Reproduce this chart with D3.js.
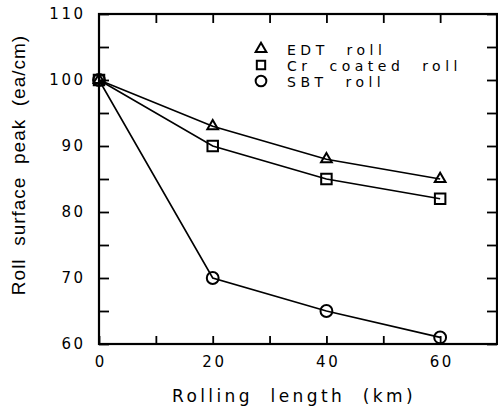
<!DOCTYPE html>
<html>
<head>
<meta charset="utf-8">
<script src="https://cdn.jsdelivr.net/npm/d3@7"></script>
<style>
  body { margin: 0; background: #fff; }
  svg { display: block; }
  text { fill: #000; white-space: pre; }
</style>
</head>
<body>
<svg id="chart" width="498" height="411"></svg>
<script>
// rolling length (km)
const lengths = [0, 20, 40, 60];
// roll surface peak (ea/cm)
const edtRoll = [100, 93, 88, 85];
const crRoll = [100, 90, 85, 82];
const sbtRoll = [100, 70, 65, 61];

const seriesNames = ["EDT  roll", "Cr  coated  roll", "SBT  roll"];
const seriesShapes = [d3.symbolTriangle, d3.symbolSquare, d3.symbolCircle];
const xTicks = [0, 20, 40, 60];
const yTicks = [60, 70, 80, 90, 100, 110];

const svg = d3.select("#chart");
const L = 99, R = 497, T = 14, B = 344;

const x = d3.scaleLinear([0, 70], [L, R]);
const y = d3.scaleLinear([60, 110], [B, T]);

const tickFont = "DejaVu Sans";

// frame
svg.append("rect")
  .attr("x", L).attr("y", T).attr("width", R - L).attr("height", B - T)
  .attr("fill", "none").attr("stroke", "#000").attr("stroke-width", 2.2);

// left axis: labels every 10, ticks every 5
const yMinor = d3.range(60, 111, 5);
svg.append("g")
  .attr("transform", `translate(${L},0)`)
  .call(d3.axisLeft(y).tickValues(yMinor).tickSize(-10).tickPadding(16)
    .tickFormat(d => yTicks.includes(d) ? d : ""))
  .call(g => g.select(".domain").remove())
  .call(g => g.selectAll("line").attr("stroke-width", 1.8))
  .call(g => g.selectAll("text").attr("font-family", tickFont).attr("font-size", 15)
    .attr("letter-spacing", 2.5).attr("dx", 2.5));

// right axis ticks
svg.append("g")
  .attr("transform", `translate(${R},0)`)
  .call(d3.axisRight(y).tickValues(yMinor).tickSize(-10).tickFormat(""))
  .call(g => g.select(".domain").remove())
  .call(g => g.selectAll("line").attr("stroke-width", 1.8));

// bottom axis
const xMinor = d3.range(0, 71, 10);
svg.append("g")
  .attr("transform", `translate(0,${B})`)
  .call(d3.axisBottom(x).tickValues(xMinor).tickSize(-8).tickPadding(12)
    .tickFormat(d => xTicks.includes(d) ? d : ""))
  .call(g => g.select(".domain").remove())
  .call(g => g.selectAll("line").attr("stroke-width", 1.8))
  .call(g => g.selectAll("text").attr("font-family", tickFont).attr("font-size", 15)
    .attr("letter-spacing", 2.5).attr("dx", 1.2));

// top axis ticks
svg.append("g")
  .attr("transform", `translate(0,${T})`)
  .call(d3.axisTop(x).tickValues(xMinor.slice(1, -1)).tickSize(-9).tickFormat(""))
  .call(g => g.select(".domain").remove())
  .call(g => g.selectAll("line").attr("stroke-width", 1.8));

// axis titles
svg.append("text")
  .attr("x", 294).attr("y", 402)
  .attr("text-anchor", "middle")
  .attr("font-family", tickFont).attr("font-size", 17).attr("letter-spacing", 3.4)
  .text("Rolling  length  (km)");

svg.append("text")
  .attr("transform", "translate(25,165) rotate(-90)")
  .attr("text-anchor", "middle")
  .attr("font-family", "Liberation Sans").attr("font-size", 19).attr("letter-spacing", 1)
  .text("Roll  surface  peak  (ea/cm)");

// series
const series = [edtRoll, crRoll, sbtRoll];
const markerSizes = [50, 110, 110];
const line = d3.line().x((d, i) => x(lengths[i])).y(d => y(d));

series.forEach((vals, s) => {
  svg.append("path")
    .attr("d", line(vals))
    .attr("fill", "none").attr("stroke", "#000").attr("stroke-width", 1.6);

  svg.append("g").selectAll("path")
    .data(vals)
    .join("path")
    .attr("transform", (d, i) => `translate(${x(lengths[i])},${y(d)})`)
    .attr("d", d3.symbol(seriesShapes[s], markerSizes[s])())
    .attr("fill", "none").attr("stroke", "#000").attr("stroke-width", 2);
});

// legend
const legendSizes = [50, 70, 90];
const legend = svg.append("g").attr("transform", "translate(261,49)");
seriesNames.forEach((name, i) => {
  const row = legend.append("g").attr("transform", `translate(0,${i * 16})`);
  row.append("path")
    .attr("d", d3.symbol(seriesShapes[i], legendSizes[i])())
    .attr("fill", "none").attr("stroke", "#000").attr("stroke-width", 2);
  row.append("text")
    .attr("x", 26).attr("y", 5.5)
    .attr("font-family", tickFont).attr("font-size", 14).attr("letter-spacing", 4.5)
    .text(name);
});
</script>
</body>
</html>
